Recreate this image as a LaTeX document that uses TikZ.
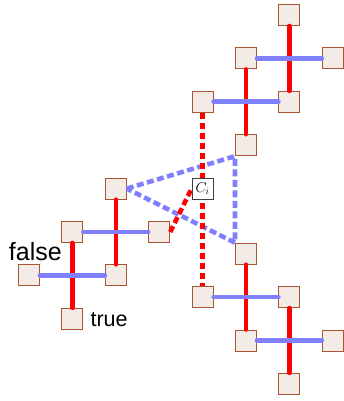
\documentclass[tikz,border=0pt]{standalone}
\usepackage{fontspec}
\newfontfamily\labelfont{Liberation Sans}
\definecolor{boxfill}{RGB}{243,235,229}
\definecolor{boxline}{RGB}{168,84,48}
\definecolor{softblue}{RGB}{128,128,255}
\begin{document}
\begin{tikzpicture}[x=43.4pt,y=-43.4pt,
  cell/.style={draw=boxline, fill=boxfill, line width=1pt, minimum size=21pt, inner sep=0pt},
  pivot/.style={draw=black!75, fill=white, line width=1pt, minimum size=21pt, inner sep=0pt, font=\fontsize{14}{16}\selectfont},
  redlink/.style={draw=red, line width=4.6pt, line cap=round},
  bluelink/.style={draw=softblue, line width=4.6pt, line cap=round},
  reddash/.style={draw=red, line width=4.6pt, dash pattern=on 6.5pt off 3.5pt},
  bluedash/.style={draw=softblue, line width=4.6pt, dash pattern=on 7pt off 3.5pt},
  lbl/.style={inner sep=0pt, anchor=base west}]
\useasboundingbox (-29pt,15pt) rectangle (314pt,-386pt);

% upper tree
\node[cell] (G) at (6,0) {};
\node[cell] (H) at (5,1) {};
\node[cell] (I) at (7,1) {};
\node[cell] (J) at (4,2) {};
\node[cell] (K) at (6,2) {};
\node[cell] (L) at (5,3) {};

% left tree
\node[cell] (A) at (2,4) {};
\node[cell] (B) at (1,5) {};
\node[cell] (C) at (3,5) {};
\node[cell] (D) at (0,6) {};
\node[cell] (E) at (2,6) {};
\node[cell] (F) at (1,7) {};

% lower tree
\node[cell] (M) at (5,5.5) {};
\node[cell] (N) at (4,6.5) {};
\node[cell] (O) at (6,6.5) {};
\node[cell] (P) at (5,7.5) {};
\node[cell] (Q) at (7,7.5) {};
\node[cell] (R) at (6,8.5) {};

% vertical (true) links
\draw[redlink] (G) -- (K);
\draw[redlink] (H) -- (L);
\draw[redlink] (A) -- (E);
\draw[redlink] (B) -- (F);
\draw[redlink] (M) -- (P);
\draw[redlink] (O) -- (R);

% horizontal (false) links
\draw[bluelink] (H) -- (I);
\draw[bluelink] (J) -- (K);
\draw[bluelink] (B) -- (C);
\draw[bluelink] (D) -- (E);
\draw[bluelink] (N) -- (O);
\draw[bluelink] (P) -- (Q);

% dashed triangle
\draw[bluedash] (A.east) -- (L.south west) -- (M.north west) -- cycle;

% dashed red links through the pivot
\draw[reddash] (J) -- (N);
\node[pivot] (Ci) at (4,4) {$C_i$};
\draw[reddash] (C.east) -- (Ci.west);

% labels
\node[lbl, font=\labelfont\fontsize{25}{30}\selectfont] (lfalse) at (-20.2pt,-245.7pt) {false};
\node[lbl, font=\labelfont\fontsize{21.5}{25}\selectfont] (ltrue) at (61.4pt,-311.7pt) {true};
\end{tikzpicture}
\end{document}
